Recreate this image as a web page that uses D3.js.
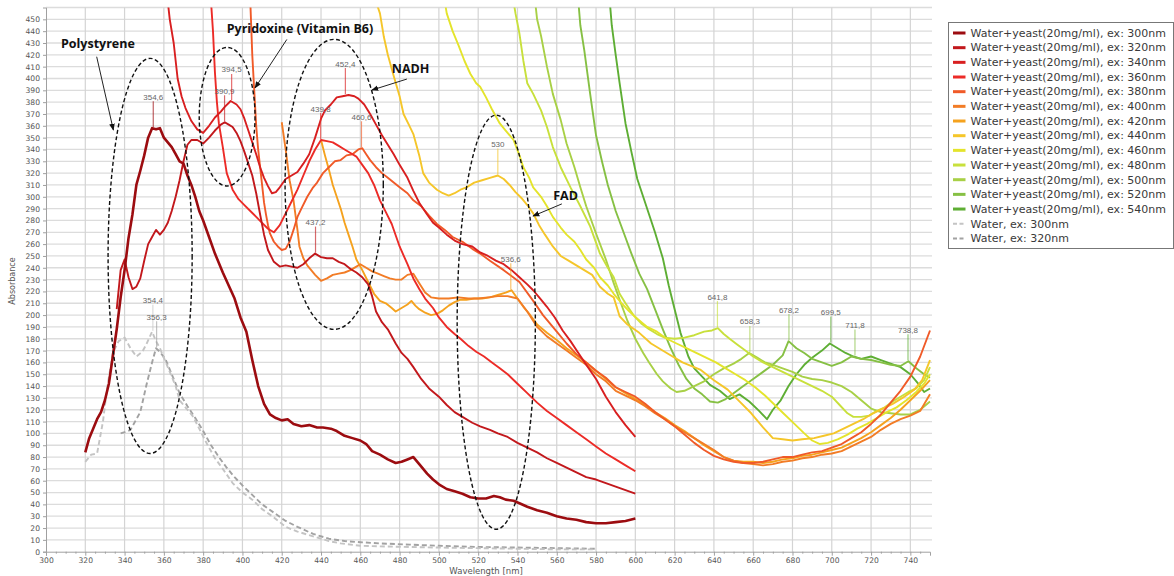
<!DOCTYPE html>
<html>
<head>
<meta charset="utf-8">
<script src="https://cdn.jsdelivr.net/npm/d3@7/dist/d3.min.js"></script>
<style>
  html, body { margin: 0; padding: 0; background: #fff; }
  svg { display: block; font-family: "DejaVu Sans", Verdana, sans-serif; }
</style>
</head>
<body>
<svg id="chart" width="1174" height="576"></svg>
<script>
// ---- emission spectra, [wavelength nm, absorbance] ----
const ex300 = [[320,84],[322,96],[324,104],[326,112],[328,118],[330,128],[332,142],[334,165],[336,188],[338,215],[340,238],[342,265],[344,285],[346,310],[348,322],[350,335],[352,350],[354,358],[356,357],[358,358],[360,350],[362,346],[364,342],[366,336],[368,330],[370,328],[372,318],[374,310],[376,300],[378,288],[380,280],[383,266],[386,252],[390,236],[393,225],[396,214],[399,198],[402,186],[405,162],[408,140],[411,125],[414,116],[417,113],[420,111],[423,112],[426,108],[430,106],[434,107],[438,105],[441,105],[445,104],[448,102],[452,98],[456,96],[460,94],[463,91],[466,85],[470,82],[474,78],[478,75],[481,76],[484,78],[487,80],[490,74],[494,66],[497,61],[500,57],[504,53],[508,51],[512,49],[516,46],[520,45],[524,45],[528,47],[531,46],[534,44],[538,43],[541,41],[545,38],[550,35],[555,33],[560,30],[565,28],[570,27],[575,25],[580,24],[585,24],[590,25],[595,26],[600,28]];
const ex320 = [[336,205],[338,238],[340,247],[342,232],[344,222],[346,224],[348,231],[350,246],[352,260],[354,266],[356,272],[358,268],[360,272],[362,278],[364,288],[366,300],[368,314],[370,330],[372,344],[374,348],[377,348],[380,345],[383,350],[386,356],[389,361],[391,363],[393,361],[395,359],[397,354],[399,347],[401,338],[403,328],[405,318],[407,303],[409,285],[411,268],[413,255],[416,245],[419,241],[422,242],[425,241],[428,240],[431,243],[434,248],[437,252],[440,249],[443,248],[446,248],[449,245],[452,243],[455,239],[458,236],[461,232],[464,226],[466,216],[468,203],[471,194],[474,188],[478,176],[481,168],[484,163],[487,156],[491,146],[495,138],[500,131],[504,124],[508,118],[512,114],[517,109],[521,106],[526,103],[530,100],[535,97],[540,92],[545,88],[550,84],[555,79],[560,75],[565,71],[570,67],[575,63],[580,61],[585,58],[590,55],[595,52],[600,49]];
const ex340 = [[362,465],[363,450],[365,430],[367,400],[369,385],[371,375],[374,364],[377,357],[380,354],[383,360],[386,367],[389,372],[391,376],[394,381],[397,378],[399,374],[401,366],[403,356],[405,346],[407,336],[409,325],[411,316],[413,309],[415,303],[417,304],[419,308],[422,315],[425,318],[428,321],[431,328],[434,336],[437,350],[440,366],[442,373],[445,378],[448,384],[451,385],[454,386],[457,385],[459,383],[462,378],[465,370],[468,361],[471,352],[474,344],[477,336],[480,327],[484,316],[487,305],[490,295],[494,285],[497,278],[500,274],[504,268],[508,263],[512,260],[517,258],[521,253],[525,250],[529,246],[533,243],[537,238],[541,232],[545,226],[548,221],[552,213],[555,207],[559,198],[563,187],[567,178],[571,168],[575,158],[580,146],[585,131],[590,118],[595,107],[600,97]];
const ex360 = [[384,465],[385,440],[386,405],[387,380],[388,362],[390,342],[392,320],[395,306],[398,298],[401,293],[404,288],[407,283],[410,278],[413,273],[416,270],[419,276],[422,286],[425,296],[428,306],[431,318],[434,330],[437,340],[440,348],[443,347],[446,346],[449,343],[452,340],[455,337],[458,334],[461,327],[464,320],[467,310],[470,297],[473,287],[476,277],[480,258],[484,243],[487,231],[490,222],[493,214],[497,206],[500,198],[504,190],[508,184],[511,180],[515,174],[519,169],[523,165],[527,160],[531,155],[535,150],[540,142],[545,134],[550,126],[555,119],[560,113],[565,107],[570,101],[575,95],[580,89],[585,83],[590,78],[595,73],[600,68]];
const ex380 = [[404,465],[405,420],[406,390],[407,360],[408,340],[409,325],[410,310],[411,295],[412,285],[413,276],[414,269],[416,262],[418,258],[420,255],[422,256],[424,262],[426,272],[428,283],[430,290],[433,300],[436,308],[438,312],[441,320],[444,325],[447,330],[450,331],[453,335],[456,336],[459,340],[461,341],[463,336],[465,331],[468,325],[471,320],[474,316],[477,312],[480,308],[484,303],[487,297],[491,292],[495,284],[499,277],[503,272],[507,266],[512,262],[517,256],[521,252],[526,246],[533,238],[541,228],[548,212],[553,200],[560,186],[565,176],[570,167],[575,160],[580,153],[585,147],[590,139],[595,135],[600,131],[605,125],[610,118],[615,112],[620,106],[625,99],[630,92],[635,86],[640,81],[645,78],[650,76],[655,75],[660,75],[665,76],[670,78],[675,80],[680,80],[685,82],[690,84],[695,85],[700,88],[705,91],[710,96],[715,101],[720,108],[725,116],[730,126],[735,136],[740,148],[745,165],[750,187]];
const ex400 = [[420,363],[422,340],[424,314],[426,297],[428,272],[429,258],[431,248],[433,242],[435,238],[437,234],[440,229],[443,231],[446,234],[449,235],[452,236],[455,238],[458,241],[460,243],[463,240],[466,237],[469,235],[472,233],[475,231],[478,230],[481,230],[484,234],[487,235],[490,227],[493,219],[496,215],[500,214],[505,214],[510,215],[515,214],[520,214],[525,215],[530,216],[535,216],[540,214],[545,203],[550,190],[555,182],[560,176],[565,170],[570,164],[575,158],[580,150],[585,144],[590,136],[595,132],[600,128],[605,123],[610,117],[615,112],[620,106],[625,101],[630,96],[635,91],[640,86],[645,80],[650,77],[655,75],[660,74],[665,73],[670,74],[675,76],[680,77],[685,79],[690,80],[695,82],[700,83],[705,85],[710,89],[715,93],[720,97],[725,103],[730,108],[735,112],[740,115],[745,119],[750,133]];
const ex420 = [[440,348],[442,335],[444,323],[446,310],[448,300],[450,290],[452,278],[454,268],[456,258],[458,247],[461,238],[464,228],[467,218],[470,212],[473,210],[476,206],[478,203],[481,206],[484,209],[486,212],[488,208],[490,205],[493,202],[496,200],[499,201],[502,204],[505,208],[508,211],[511,213],[514,213],[518,214],[522,214],[526,215],[530,217],[534,219],[537,221],[540,214],[543,207],[546,201],[550,192],[555,185],[560,179],[565,172],[570,166],[575,160],[580,153],[585,146],[590,139],[595,134],[600,129],[605,124],[610,118],[615,113],[620,107],[625,102],[630,96],[635,90],[640,85],[645,80],[650,77],[655,76],[660,76],[665,75],[670,76],[675,78],[680,79],[685,81],[690,82],[695,84],[700,86],[705,88],[710,92],[715,96],[720,101],[725,107],[730,113],[735,120],[740,128],[745,136],[750,145]];
const ex440 = [[468,465],[470,455],[472,435],[474,420],[477,402],[480,385],[482,370],[485,360],[487,353],[490,335],[492,320],[495,312],[499,306],[502,303],[505,301],[508,303],[511,306],[514,308],[518,312],[522,314],[526,316],[530,318],[533,315],[536,310],[539,304],[542,299],[545,293],[548,286],[551,276],[554,268],[558,258],[562,250],[566,246],[570,242],[574,238],[578,234],[582,224],[586,218],[589,215],[592,199],[596,192],[602,185],[608,176],[616,168],[624,160],[633,154],[640,145],[647,137],[653,127],[659,117],[665,105],[670,96],[675,95],[680,94],[685,95],[691,96],[696,98],[701,100],[706,104],[711,108],[716,112],[721,117],[726,121],[731,125],[736,130],[742,137],[746,145],[750,162]];
const ex460 = [[503,465],[504,455],[507,440],[510,428],[513,415],[516,404],[519,396],[521,393],[524,384],[527,374],[531,362],[534,356],[538,348],[541,335],[543,325],[546,316],[548,308],[552,300],[555,292],[558,283],[562,274],[565,268],[569,262],[572,255],[575,247],[579,240],[582,232],[586,225],[589,218],[593,210],[597,203],[601,197],[606,190],[611,186],[616,180],[621,176],[626,172],[631,168],[636,164],[641,160],[646,155],[651,150],[656,145],[661,139],[666,132],[671,124],[676,116],[681,108],[686,100],[690,94],[694,91],[698,92],[703,95],[708,99],[713,104],[718,108],[723,113],[728,118],[733,122],[738,128],[743,135],[747,142],[750,150]];
const ex480 = [[538,465],[539,455],[541,438],[543,415],[545,396],[548,387],[552,373],[555,359],[558,342],[562,325],[567,308],[572,292],[577,275],[582,252],[586,240],[589,232],[592,218],[595,210],[599,200],[603,193],[607,188],[611,184],[615,181],[620,180],[625,181],[630,183],[635,186],[639,187],[642,189],[645,184],[648,180],[652,175],[656,170],[660,165],[665,160],[670,156],[675,152],[680,148],[685,144],[690,140],[695,136],[700,131],[704,124],[708,117],[711,114],[715,114],[719,115],[723,119],[727,122],[731,127],[735,131],[739,135],[743,138],[747,145],[750,156]];
const ex500 = [[549,465],[550,450],[552,436],[555,410],[558,387],[562,365],[565,345],[569,325],[572,308],[575,292],[580,269],[585,247],[589,227],[592,213],[596,195],[600,180],[604,168],[607,160],[611,150],[614,144],[618,138],[621,135],[625,136],[630,140],[635,144],[640,150],[645,155],[650,159],[654,163],[658,168],[662,164],[666,160],[670,158],[675,155],[680,152],[685,148],[690,146],[695,145],[700,143],[705,140],[710,135],[715,128],[720,121],[725,118],[730,117],[735,116],[740,116],[745,120],[750,127]];
const ex520 = [[571,465],[572,445],[574,424],[577,387],[580,352],[583,330],[586,310],[590,288],[594,270],[598,252],[602,235],[606,222],[610,205],[614,188],[618,172],[622,158],[626,146],[630,138],[634,133],[638,127],[642,126],[646,129],[650,134],[655,140],[660,146],[665,152],[670,158],[675,166],[678,178],[682,172],[686,168],[690,163],[695,160],[700,157],[705,160],[710,165],[715,163],[720,162],[725,160],[730,158],[735,157],[739,161],[743,155],[747,150],[750,147]];
const ex540 = [[587,465],[588,445],[590,420],[592,396],[595,362],[598,338],[601,315],[604,300],[607,285],[610,270],[614,248],[617,225],[620,205],[623,185],[627,165],[630,155],[634,148],[638,141],[643,136],[648,129],[653,133],[658,127],[663,119],[667,112],[670,120],[674,128],[678,140],[682,150],[686,158],[690,164],[695,170],[699,176],[703,172],[707,168],[711,165],[715,163],[720,165],[725,162],[730,159],[735,156],[740,150],[744,142],[747,135],[750,138]];
const water300 = [[320,76],[323,82],[326,83],[329,110],[331,137],[334,168],[337,178],[340,181],[343,172],[346,165],[349,169],[351,175],[354,186],[356,178],[358,172],[361,160],[363,152],[366,140],[368,128],[372,120],[375,114],[378,104],[382,91],[386,79],[390,70],[395,58],[400,50],[405,44],[410,36],[416,29],[422,21],[428,17],[436,13],[444,9],[450,7],[460,5],[470,4.5],[485,4],[500,3.5],[520,3],[540,2.5],[560,2],[580,2]];
const water320 = [[338,100],[340,101],[343,103],[346,112],[348,118],[351,140],[354,160],[356,172],[358,169],[361,162],[364,150],[368,134],[372,123],[376,113],[380,102],[384,90],[388,80],[392,71],[396,63],[400,56],[405,48],[410,40],[416,33],[422,26],[428,21],[436,15],[444,11],[452,9],[460,8],[470,7],[485,6],[500,5],[520,4],[540,3.5],[560,3],[580,2.5]];

// ---- series names and colours ----
const seriesNames = [
  "Water+yeast(20mg/ml), ex: 300nm","Water+yeast(20mg/ml), ex: 320nm","Water+yeast(20mg/ml), ex: 340nm",
  "Water+yeast(20mg/ml), ex: 360nm","Water+yeast(20mg/ml), ex: 380nm","Water+yeast(20mg/ml), ex: 400nm",
  "Water+yeast(20mg/ml), ex: 420nm","Water+yeast(20mg/ml), ex: 440nm","Water+yeast(20mg/ml), ex: 460nm",
  "Water+yeast(20mg/ml), ex: 480nm","Water+yeast(20mg/ml), ex: 500nm","Water+yeast(20mg/ml), ex: 520nm",
  "Water+yeast(20mg/ml), ex: 540nm","Water, ex: 300nm","Water, ex: 320nm"
];
const seriesColors = ["#9c0c10","#c2181c","#d81f20","#ec2b27","#f05a28","#f27c26","#f5a21e","#f5c62a","#e4e42c","#c8e03c","#a8d046","#86c044","#5eae34","#c4c4c4","#a2a2a2"];
const seriesData = [ex300,ex320,ex340,ex360,ex380,ex400,ex420,ex440,ex460,ex480,ex500,ex520,ex540,water300,water320];

// ---- labelled maxima: [series index, wavelength, absorbance, label] ----
const peakMarks = [
  [0,354.6,358,"354,6"],[1,390.9,363,"390,9"],[2,394.5,381,"394,5"],[1,437.2,252,"437,2"],
  [3,439.8,348,"439,8"],[2,452.4,386,"452,4"],[4,460.6,341,"460,6"],[7,530,318,"530"],
  [6,536.6,221,"536,6"],[9,641.8,189,"641,8"],[10,658.3,168,"658,3"],[11,678.2,178,"678,2"],
  [12,699.5,176,"699,5"],[11,711.8,165,"711,8"],[12,738.8,161,"738,8"],
  [13,354.4,186,"354,4"],[14,356.3,172,"356,3"]
];

// ---- annotated regions: [centre nm, centre abs, radius nm, radius abs] ----
const regions = [[353,250,21.4,167],[392.2,367.7,14.2,58.6],[446.7,310.5,25,122.6],[529.2,194,19.9,175]];
// ---- annotation texts with arrow tails/heads in data units ----
const notes = [
  {text:"Polystyrene", tx:307.6, ty:425.5, from:[325.8,418.4],to:[334.3,356.4]},
  {text:"Pyridoxine (Vitamin B6)", tx:392, ty:438.5, from:[422.6,433],to:[406.4,392]},
  {text:"NADH", tx:476, ty:404.6, from:[483.7,399.5],to:[465.9,390.2]},
  {text:"FAD", tx:558.2, ty:297, from:[562.6,294],to:[547.9,283.7]}
];

const xTicks = d3.range(300, 741, 20);
const yTicks = d3.range(0, 451, 10);

// ---- layout ----
const svg = d3.select("#chart");
const x = d3.scaleLinear().domain([300, 750]).range([46, 930]);
const y = d3.scaleLinear().domain([0, 460]).range([551.7, 7.5]);

svg.append("rect").attr("width",1174).attr("height",576).attr("fill","#fff");

// grid
const grid = svg.append("g");
grid.selectAll("line.h").data(d3.range(10, 461, 10)).join("line")
  .attr("x1", x(300)).attr("x2", x(750) + 2)
  .attr("y1", d => y(d)).attr("y2", d => y(d))
  .attr("stroke", "#dcdcdc").attr("stroke-width", 1.3);
grid.selectAll("line.v").data(xTicks.filter(d => d > 300)).join("line")
  .attr("x1", d => x(d)).attr("x2", d => x(d))
  .attr("y1", y(460)).attr("y2", y(0))
  .attr("stroke", "#d4d4d4").attr("stroke-width", 1.2);

// axes
const yAxis = svg.append("g").attr("transform", `translate(${x(300)},0)`)
  .call(d3.axisLeft(y).tickValues(yTicks).tickSize(3).tickPadding(3).tickFormat(d3.format("d")));
const xAxis = svg.append("g").attr("transform", `translate(0,${y(0)})`)
  .call(d3.axisBottom(x).tickValues(xTicks).tickSize(4).tickPadding(2).tickFormat(d3.format("d")));
svg.append("g").attr("transform", `translate(0,${y(0)})`)
  .call(d3.axisBottom(x).tickValues(d3.range(305, 750, 5).filter(d => d % 20 !== 0)).tickSize(2).tickFormat(""))
  .call(g => g.select(".domain").remove());
[yAxis, xAxis].forEach(g => {
  g.select(".domain").attr("stroke", "#a0a0a0");
  g.selectAll(".tick text").attr("fill", "#555").style("font-size", "7.6px").style("font-family", "'DejaVu Sans', sans-serif");
});
svg.selectAll(".tick line").attr("stroke", "#a0a0a0");

svg.append("text").attr("x", x(524)).attr("y", 574).attr("text-anchor", "middle")
  .attr("fill", "#555").style("font-size", "8.5px").text("Wavelength [nm]");
svg.append("text").attr("transform", "translate(15,281) rotate(-90)").attr("text-anchor", "middle")
  .attr("fill", "#555").style("font-size", "8px").text("Absorbance");

// spectra
svg.append("clipPath").attr("id", "plot").append("rect")
  .attr("x", x(300)).attr("y", y(460)).attr("width", x(750) - x(300) + 2).attr("height", y(0) - y(460));
const line = d3.line().x(d => x(d[0])).y(d => y(d[1])).curve(d3.curveLinear);
const curves = svg.append("g").attr("clip-path", "url(#plot)");
const order = [14,13,12,11,10,9,8,7,6,5,4,3,2,1,0];
order.forEach(i => {
  const p = curves.append("path").datum(seriesData[i]).attr("d", line)
    .attr("fill", "none").attr("stroke", seriesColors[i])
    .attr("stroke-width", i === 0 ? 2.6 : 1.9).attr("stroke-linejoin", "round");
  if (i >= 13) p.attr("stroke-dasharray", "5,3");
});

// peak markers
const pk = svg.append("g");
peakMarks.forEach(([s, nm, v, lab]) => {
  pk.append("line").attr("x1", x(nm)).attr("x2", x(nm)).attr("y1", y(v) - 1).attr("y2", y(v) - 27)
    .attr("stroke", seriesColors[s]).attr("stroke-opacity", 0.65).attr("stroke-width", 1.2);
  pk.append("text").attr("x", x(nm)).attr("y", y(v) - 28.5).attr("text-anchor", "middle")
    .attr("fill", "#666").style("font-size", "8px").style("font-family", "'Liberation Sans', Arial, sans-serif").text(lab);
});

// dashed ellipses
svg.append("g").selectAll("ellipse").data(regions).join("ellipse")
  .attr("cx", d => x(d[0])).attr("cy", d => y(d[1]))
  .attr("rx", d => x(d[0] + d[2]) - x(d[0])).attr("ry", d => y(d[1] - d[3]) - y(d[1]))
  .attr("fill", "none").attr("stroke", "#111").attr("stroke-width", 1.4).attr("stroke-dasharray", "4,2.5");

// annotations
svg.append("defs").append("marker").attr("id", "arr").attr("viewBox", "0 0 10 10")
  .attr("refX", 9).attr("refY", 5).attr("markerWidth", 7).attr("markerHeight", 7).attr("orient", "auto")
  .append("path").attr("d", "M0,1 L10,5 L0,9 Z").attr("fill", "#111");
const ann = svg.append("g");
notes.forEach(n => {
  ann.append("line").attr("x1", x(n.from[0])).attr("y1", y(n.from[1]))
    .attr("x2", x(n.to[0])).attr("y2", y(n.to[1]))
    .attr("stroke", "#222").attr("stroke-width", 1).attr("marker-end", "url(#arr)");
  ann.append("text").attr("x", x(n.tx)).attr("y", y(n.ty)).attr("fill", "#111")
    .style("font-size", "12.5px").style("font-weight", "bold")
    .style("font-family", "'Open Sans', 'DejaVu Sans', sans-serif").text(n.text);
});

// legend
const lg = svg.append("g").attr("transform", "translate(948.5,22.5)");
lg.append("rect").attr("width", 225).attr("height", 226).attr("fill", "#fff")
  .attr("stroke", "#777").attr("stroke-width", 1);
seriesNames.forEach((name, i) => {
  const yy = 10.5 + i * 14.67;
  const l = lg.append("line").attr("x1", 4.5).attr("x2", 17).attr("y1", yy).attr("y2", yy)
    .attr("stroke", seriesColors[i]).attr("stroke-width", i >= 13 ? 2 : 3);
  if (i >= 13) l.attr("stroke-dasharray", "4,2.5");
  lg.append("text").attr("x", 22).attr("y", yy + 3.8).attr("fill", "#3a3a3a")
    .style("font-size", "11px").text(name);
});
</script>
</body>
</html>
